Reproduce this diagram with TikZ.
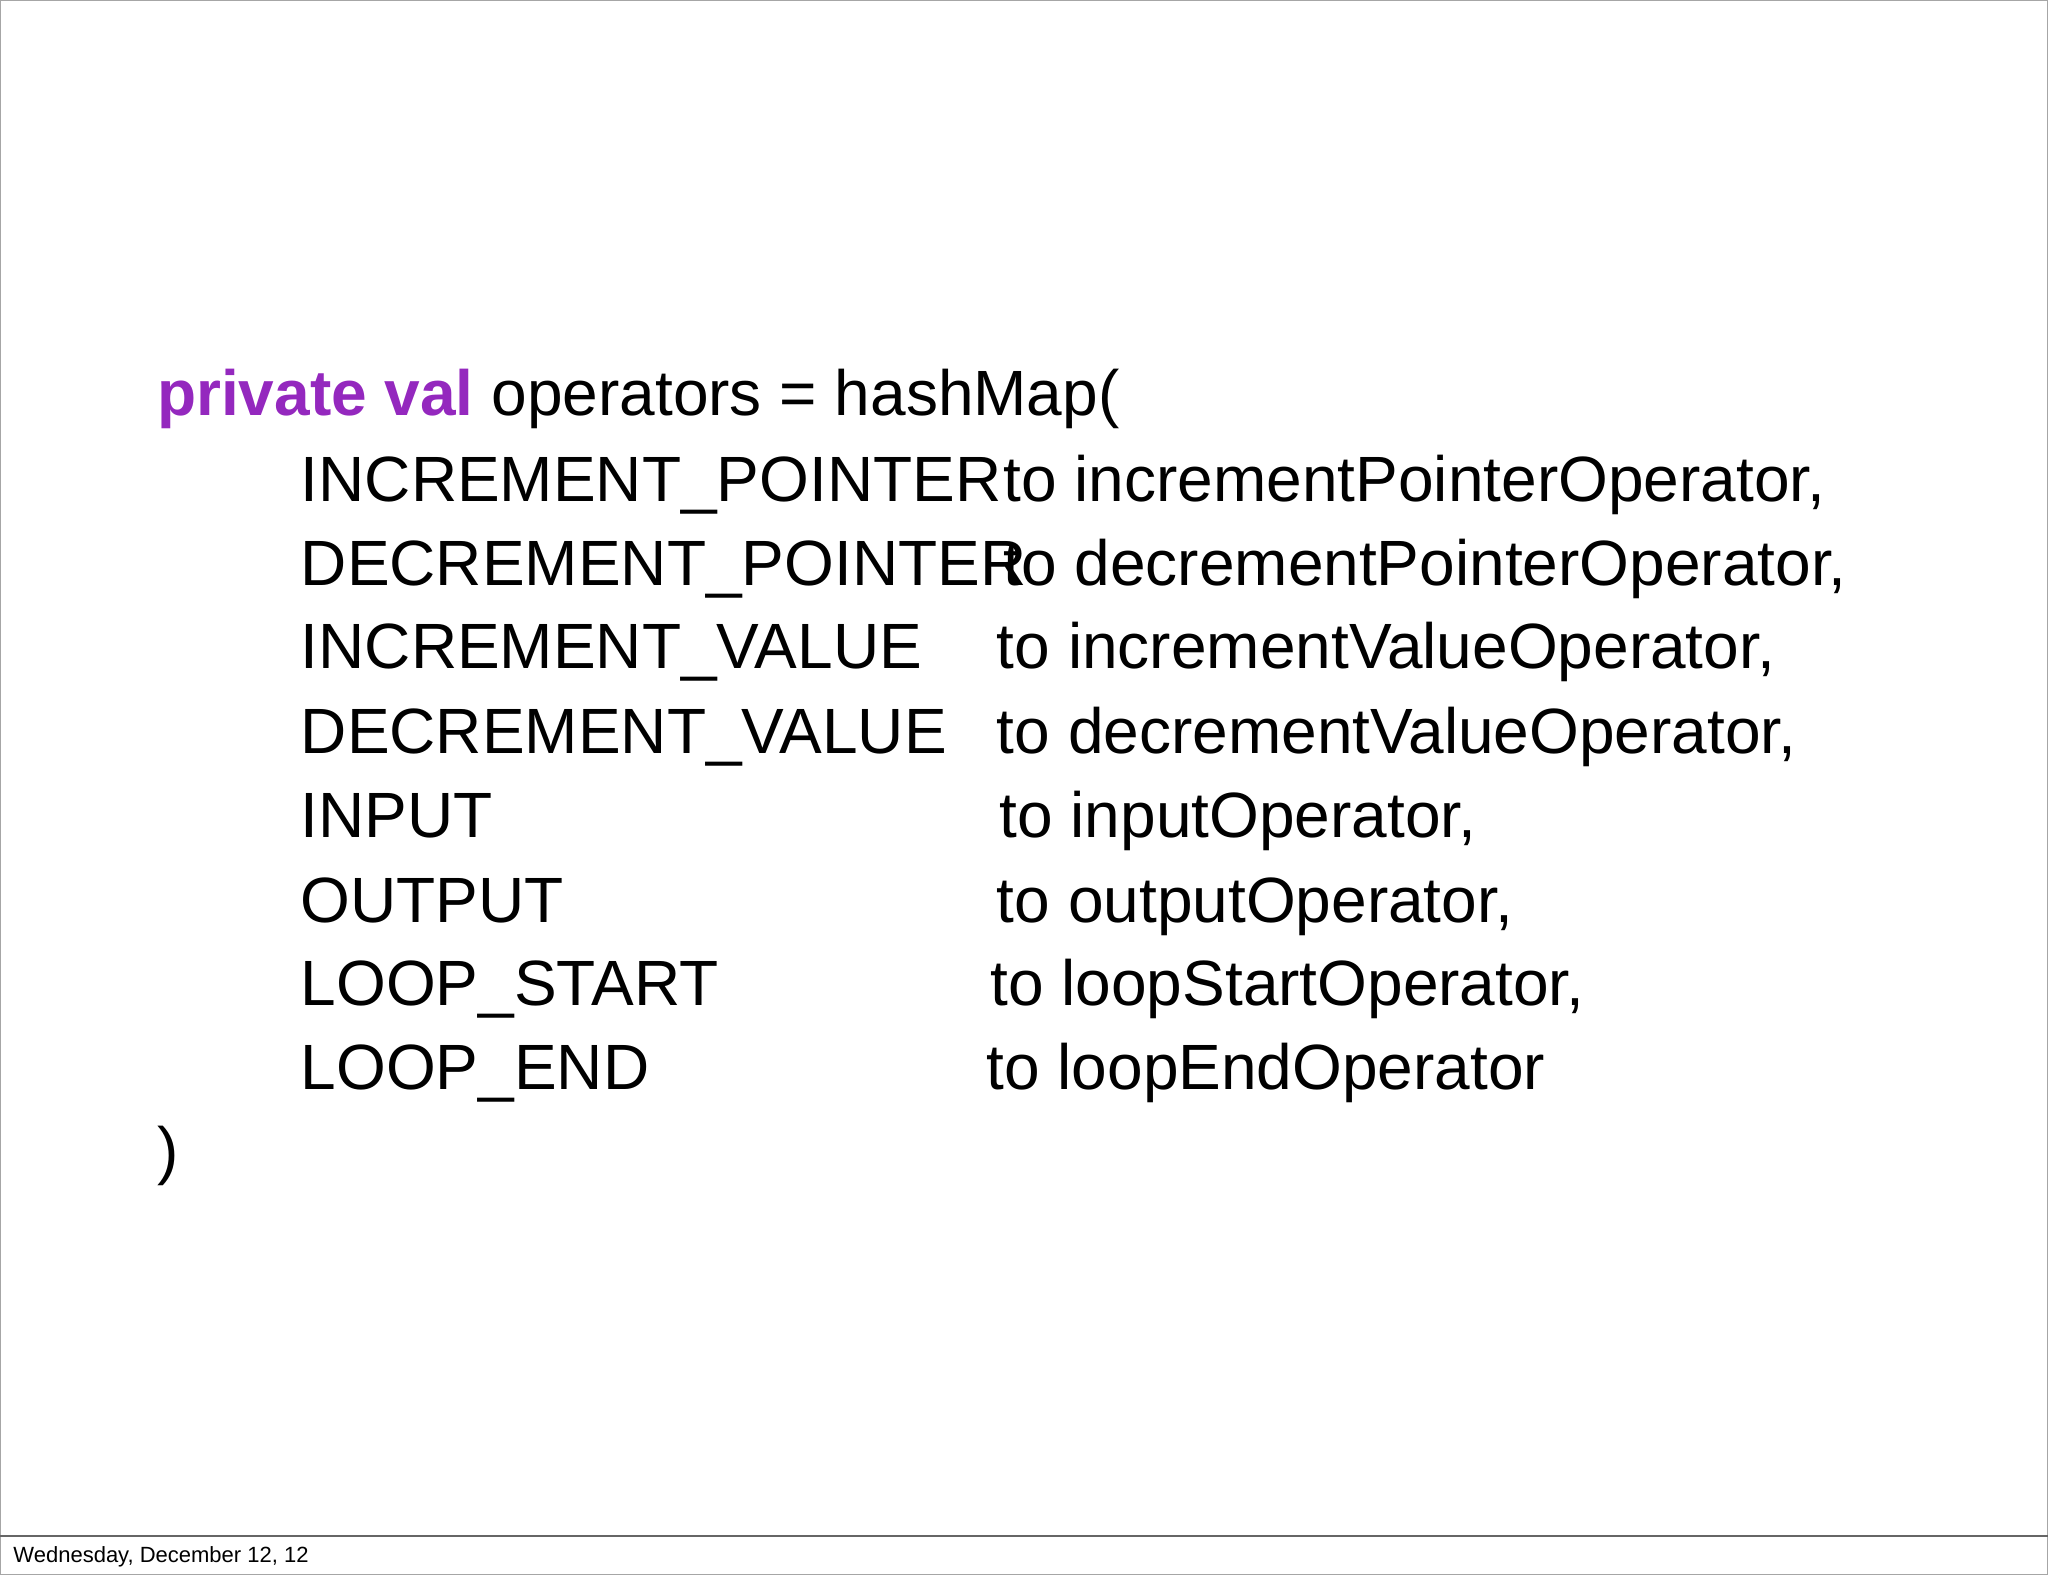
\documentclass[tikz,border=0pt]{standalone}
\usepackage{fontspec}
\setmainfont{Liberation Sans}
\definecolor{kw}{RGB}{148,40,190}
\begin{document}
\begin{tikzpicture}[x=0.653pt,y=-0.653pt,
  code/.style={anchor=base west,inner sep=0pt,font=\fontsize{32}{38}\selectfont},
  foot/.style={anchor=base west,inner sep=0pt,font=\fontsize{11}{13}\selectfont}]
\useasboundingbox (0,0) rectangle (1568,1206);
\draw[gray!70,line width=0.8pt] (0.5,0.5) rectangle (1567.5,1205.5);
\draw[gray!80!black,line width=0.8pt] (0,1176) -- (1568,1176);
\node[foot] (f) at (10,1196) {Wednesday, December 12, 12};
\node[code] (h) at (120,318) {\textbf{\color{kw}private val} operators = hashMap(};
\node[code] (k1) at (230,384) {INCREMENT\_POINTER};
\node[code] (v1) at (768,384) {to incrementPointerOperator,};
\node[code] (k2) at (230,448) {DECREMENT\_POINTER};
\node[code] (v2) at (768,448) {to decrementPointerOperator,};
\node[code] (k3) at (230,512) {INCREMENT\_VALUE};
\node[code] (v3) at (763,512) {to incrementValueOperator,};
\node[code] (k4) at (230,577) {DECREMENT\_VALUE};
\node[code] (v4) at (763,577) {to decrementValueOperator,};
\node[code] (k5) at (230,641) {INPUT};
\node[code] (v5) at (765,641) {to inputOperator,};
\node[code] (k6) at (230,706) {OUTPUT};
\node[code] (v6) at (763,706) {to outputOperator,};
\node[code] (k7) at (230,770) {LOOP\_START};
\node[code] (v7) at (758,770) {to loopStartOperator,};
\node[code] (k8) at (230,834) {LOOP\_END};
\node[code] (v8) at (755,834) {to loopEndOperator};
\node[code] (c) at (120,898) {)};
\end{tikzpicture}
\end{document}
